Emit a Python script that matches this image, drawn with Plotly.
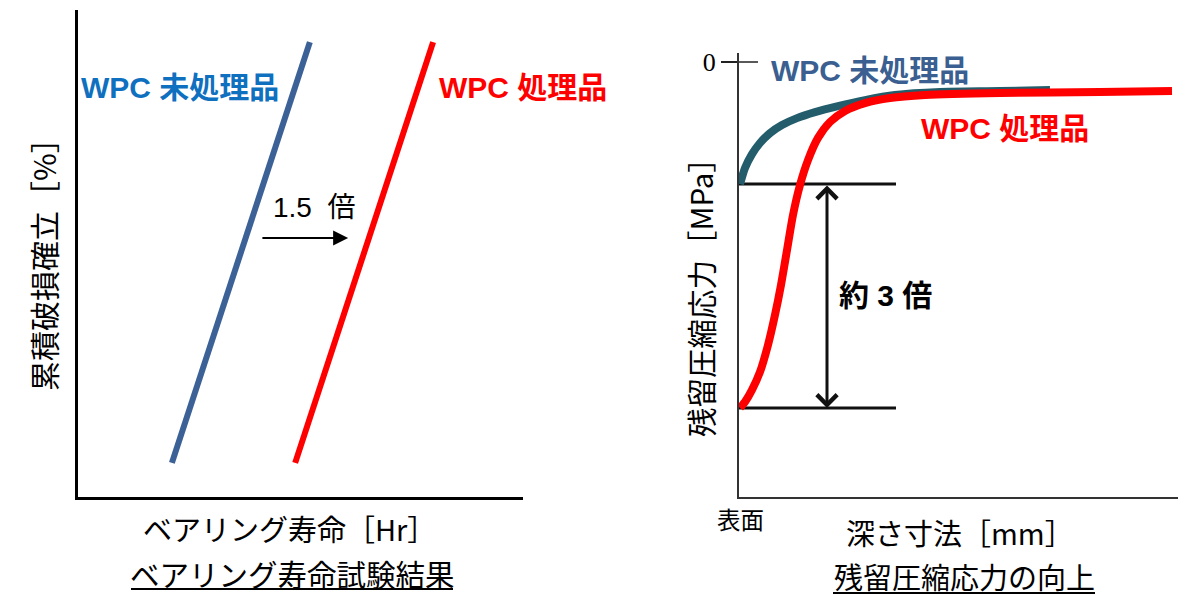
import plotly.graph_objects as go

# page has an 8px body margin -> build the figure in viewport pixels minus that offset
OX, OY = 8, 8
W, H = 1186 - OX, 596 - OY


def fx(px):
    return (px - OX) / W


def fy(py):
    return 1 - (py - OY) / H


# ---------------- data (schematic units) ----------------
# Left: bearing life test
cum_prob = [7.0, 93.4]
life_untreated = [21.1, 52.1]
life_treated = [48.8, 79.8]

# Right: residual compressive stress vs depth
depth_untreated = [0.01, 0.06, 0.13, 0.21, 0.31, 0.43, 0.58, 0.76, 0.99, 1.26, 1.56, 2.01, 2.61, 3.11]
stress_untreated = [-407, -353, -307, -270, -237, -210, -187, -167, -147, -127, -110, -100, -97, -93]
depth_treated = [0.01, 0.06, 0.13, 0.21, 0.29, 0.36, 0.42, 0.48, 0.54, 0.61, 0.69, 0.79, 0.91,
                 1.06, 1.26, 1.51, 1.86, 2.61, 3.61, 4.33]
stress_treated = [-1153, -1133, -1093, -1033, -943, -843, -743, -627, -510, -410, -327, -253, -200,
                  -163, -137, -120, -110, -103, -100, -97]
surface_stress = [stress_untreated[0], stress_treated[0]]
ref_line_depth = [0, 1.57]

CJK = "Noto Sans CJK JP"
LAT = "Liberation Sans, Noto Sans CJK JP"

fig = go.Figure()

# left lines
fig.add_trace(go.Scatter(x=life_untreated, y=cum_prob, mode="lines",
                         line=dict(color="#3B6196", width=6), xaxis="x", yaxis="y",
                         showlegend=False, hoverinfo="skip"))
fig.add_trace(go.Scatter(x=life_treated, y=cum_prob, mode="lines",
                         line=dict(color="#FF0000", width=6), xaxis="x", yaxis="y",
                         showlegend=False, hoverinfo="skip"))

# right reference lines
for s in surface_stress:
    fig.add_trace(go.Scatter(x=ref_line_depth, y=[s, s], mode="lines",
                             line=dict(color="#111111", width=3), xaxis="x2", yaxis="y2",
                             showlegend=False, hoverinfo="skip", cliponaxis=False))

# right curves
fig.add_trace(go.Scatter(x=depth_untreated, y=stress_untreated, mode="lines",
                         line=dict(color="#235D6C", width=8, shape="spline", smoothing=0.7),
                         xaxis="x2", yaxis="y2", showlegend=False, hoverinfo="skip",
                         cliponaxis=False))
fig.add_trace(go.Scatter(x=depth_treated, y=stress_treated, mode="lines",
                         line=dict(color="#FF0000", width=8, shape="spline", smoothing=0.7),
                         xaxis="x2", yaxis="y2", showlegend=False, hoverinfo="skip",
                         cliponaxis=False))

annotations = []


def txt(x, y, text, size, color="#000000", family=CJK, xref="paper", yref="paper", angle=0):
    annotations.append(dict(x=x, y=y, xref=xref, yref=yref, text=text, textangle=angle,
                            showarrow=False, xanchor="center", yanchor="middle",
                            font=dict(family=family, size=size, color=color)))


# ----- left panel texts -----
txt(22.9, 84.0, "<b>WPC 未処理品</b>", 30, "#0F70C0", LAT, "x", "y")
txt(99.9, 84.0, "<b>WPC 処理品</b>", 30, "#FF0000", LAT, "x", "y")
txt(53.0, 59.5, "1.5 \u00a0倍", 28, "#000000", LAT, "x", "y")
annotations.append(dict(x=60.7, y=53.2, ax=41.1, ay=53.2, xref="x", yref="y",
                        axref="x", ayref="y", text="", showarrow=True,
                        arrowhead=2, arrowsize=1.5, arrowwidth=2, arrowcolor="#000000"))
txt(fx(43), fy(257), "累積破損確立［%］", 30, angle=-90)
txt(fx(289), fy(528), "ベアリング寿命［Hr］", 29)
txt(fx(292), fy(573), "ベアリング寿命試験結果", 29.5)

# ----- right panel texts -----
txt(1.305, -26.7, "<b>WPC 未処理品</b>", 30, "#3A5F90", LAT, "x2", "y2")
txt(2.66, -223, "<b>WPC 処理品</b>", 30, "#FF0000", LAT, "x2", "y2")
txt(1.46, -777, "<b>約 3 倍</b>", 30, "#000000", LAT, "x2", "y2")
annotations.append(dict(x=0.88, y=surface_stress[1], ax=0.88, ay=surface_stress[0],
                        xref="x2", yref="y2", axref="x2", ayref="y2", text="",
                        showarrow=True, arrowside="end+start", arrowhead=4, startarrowhead=4,
                        arrowsize=1.3, startarrowsize=1.3, arrowwidth=3, arrowcolor="#111111"))
txt(fx(700), fy(290), "残留圧縮応力［MPa］", 29.5, angle=-90)
txt(fx(740), fy(519), "表面", 23.5)
txt(fx(960), fy(532), "深さ寸法［mm］", 29)
txt(fx(964), fy(576), "残留圧縮応力の向上", 29)

shapes = [
    # underlines of the subtitles
    dict(type="line", xref="paper", yref="paper", x0=fx(131), x1=fx(453),
         y0=fy(589), y1=fy(589), line=dict(color="#000000", width=2)),
    dict(type="line", xref="paper", yref="paper", x0=fx(833), x1=fx(1095),
         y0=fy(593), y1=fy(593), line=dict(color="#000000", width=2)),
    # inside part of the "0" tick
    dict(type="line", xref="x2", yref="y2", x0=0, x1=0.19, y0=0, y1=0,
         line=dict(color="#222222", width=1.5)),
]

fig.update_layout(
    width=W, height=H,
    margin=dict(l=0, r=0, t=0, b=0, autoexpand=False),
    paper_bgcolor="white", plot_bgcolor="white",
    showlegend=False,
    xaxis=dict(domain=[fx(78), fx(523)], range=[0, 100], showline=True, linecolor="#000000",
               linewidth=2.5, showgrid=False, zeroline=False, showticklabels=False, ticks="",
               anchor="y", fixedrange=True, automargin=False),
    yaxis=dict(domain=[fy(497), fy(10)], range=[0, 100], showline=True,
               linecolor="#000000", linewidth=2.5, showgrid=False, zeroline=False,
               showticklabels=False, ticks="", anchor="x", fixedrange=True, automargin=False),
    xaxis2=dict(domain=[fx(739), 1.0], range=[0, 4.47], showline=True, linecolor="#333333",
                linewidth=2, showgrid=False, zeroline=False, showticklabels=False, ticks="",
                anchor="y2", fixedrange=True, automargin=False),
    yaxis2=dict(domain=[fy(497), fy(53)], range=[-1450, 30], showline=True,
                linecolor="#333333", linewidth=2, showgrid=False, zeroline=False,
                tickvals=[0], ticktext=["0"], ticks="outside", ticklen=16, tickwidth=1.5,
                tickcolor="#222222",
                tickfont=dict(family="Liberation Serif", size=26, color="#000000"),
                anchor="x2", fixedrange=True, automargin=False),
    annotations=annotations,
    shapes=shapes,
)

fig.write_html("out.html")
